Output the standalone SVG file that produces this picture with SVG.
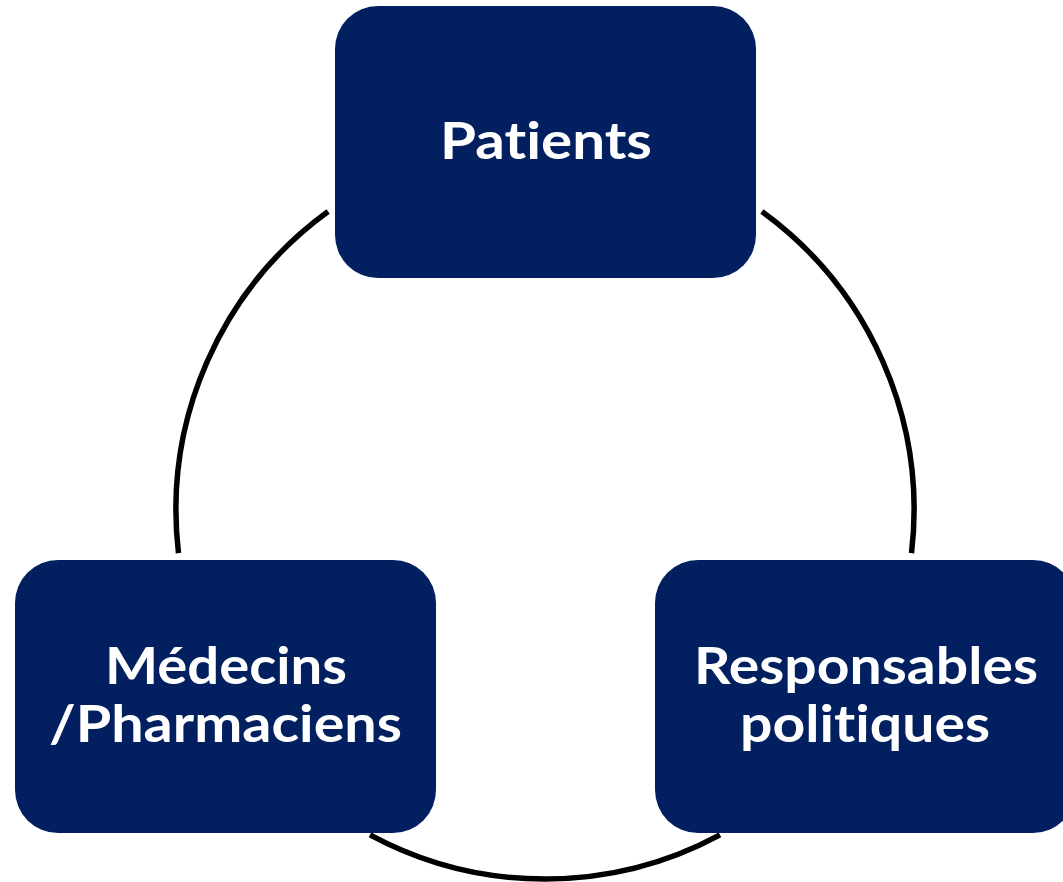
<svg xmlns="http://www.w3.org/2000/svg" width="1063" height="882" viewBox="0 0 1063 882">
  <style>
    .box { fill: #022060; }
    .lbl { fill: #ffffff; font-family: Lato, "Open Sans", "Liberation Sans", sans-serif; font-weight: bold; font-size: 52px; text-anchor: middle; font-variant-ligatures: none; font-feature-settings: "liga" 0; }
    .arc { fill: none; stroke: #000000; stroke-width: 5.5; }
  </style>
  <rect width="1063" height="882" fill="#ffffff"/>
  <g id="connectors">
    <path class="arc" d="M 328.1 211.5 A 369 369 0 0 0 178.5 553.1"/>
    <path class="arc" d="M 761.9 211.5 A 369 369 0 0 1 911.5 553.1"/>
    <path class="arc" d="M 720 834.9 A 369 369 0 0 1 370 834.9"/>
  </g>
  <g id="patients">
    <rect class="box" x="335" y="6" width="421" height="272" rx="43" ry="43"/>
    <text class="lbl" x="546" y="159" textLength="212" lengthAdjust="spacingAndGlyphs">Patients</text>
  </g>
  <g id="medecins">
    <rect class="box" x="15" y="560" width="421" height="273" rx="43" ry="43"/>
    <text class="lbl" x="226" y="684" textLength="242" lengthAdjust="spacingAndGlyphs">Médecins</text>
    <text class="lbl" x="225.5" y="742" textLength="353" lengthAdjust="spacingAndGlyphs">/Pharmaciens</text>
  </g>
  <g id="responsables">
    <rect class="box" x="655" y="560" width="421" height="273" rx="43" ry="43"/>
    <text class="lbl" x="866" y="684" textLength="344" lengthAdjust="spacingAndGlyphs">Responsables</text>
    <text class="lbl" x="865" y="742" textLength="250" lengthAdjust="spacingAndGlyphs">politiques</text>
  </g>
</svg>
